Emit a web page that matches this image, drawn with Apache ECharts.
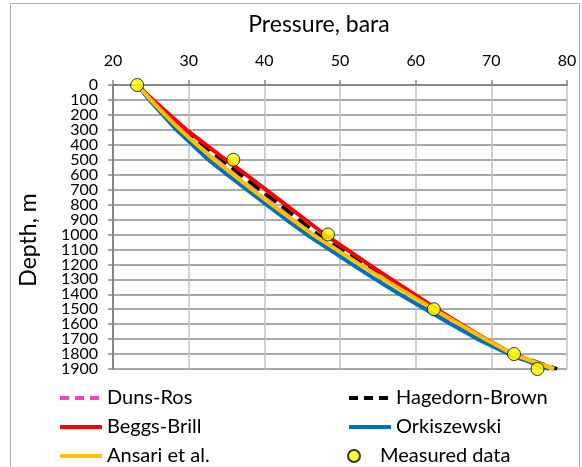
<!DOCTYPE html>
<html><head><meta charset="utf-8">
<script src="https://cdn.jsdelivr.net/npm/echarts@6/dist/echarts.min.js"></script>
<style>html,body{margin:0;padding:0;background:#fff}#c{width:582px;height:467px}</style>
</head><body><div id="c"></div>
<script>
const depths = [0,100,200,300,400,500,600,700,800,900,1000,1100,1200,1300,1400,1500,1600,1700,1800,1900];
const dunsRos      = [23.2,25.2,27.3,29.4,31.8,34.2,36.7,39.2,41.8,44.4,47.0,50.0,53.0,56.0,59.1,62.2,65.4,68.7,72.2,77.2];
const hagedornBrown= [23.2,25.2,27.3,29.4,31.9,34.4,36.9,39.4,42.1,44.6,47.1,50.1,53.1,56.2,59.3,62.5,65.8,69.2,72.9,78.7];
const beggsBrill   = [23.2,25.3,27.5,29.7,32.3,34.9,37.6,40.2,42.8,45.4,48.0,50.9,53.8,56.8,59.8,62.8,66.0,69.3,72.8,78.3];
const orkiszewski  = [23.2,24.8,26.6,28.4,30.5,32.6,35.1,37.7,40.3,42.9,45.6,48.6,51.6,54.7,57.9,61.3,64.7,68.2,72.3,77.6];
const ansari       = [23.2,25.0,26.9,28.9,31.1,33.4,35.9,38.4,41.0,43.7,46.4,49.5,52.6,55.8,59.1,62.4,65.8,69.2,72.8,78.3];
const measuredP    = [23.2,35.9,48.4,62.4,73.0,76.1];
const measuredD    = [0,500,1000,1500,1800,1900];
const seriesNames  = ['Duns-Ros','Hagedorn-Brown','Beggs-Brill','Orkiszewski','Ansari et al.','Measured data'];
const xTicks = [20,30,40,50,60,70,80];
const depthLabels = depths.map(String);

const FONT = 'Lato, "Open Sans", sans-serif';
function pairs(vals){ return vals.map((v,i)=>[v, String(depths[i])]); }
function lineSeries(name, vals, color, type, width){
  return {name, type:'line', data:pairs(vals), symbol:'none', showSymbol:false, smooth:false,
    lineStyle:{color, width, type}, itemStyle:{color}, animation:false};
}
const legendPos = [[58,388],[347,388],[58,417],[347,417],[58,446],[347,446]];
const legends = seriesNames.map((n,i)=>({
  left:legendPos[i][0], top:legendPos[i][1], padding:0, itemWidth:42, itemHeight:12, itemGap:0,
  textStyle:{fontSize:20, fontFamily:FONT, color:'#000'},
  lineStyle: i<2 ? {width:4, type:[9,6]} : {width:4},
  data:[ i<5 ? {name:n, itemStyle:{opacity:0}} : {name:n} ]
}));
const chart = echarts.init(document.getElementById('c'));
chart.setOption({
  animation:false,
  grid:{left:113, right:15, top:85, bottom:98},
  xAxis:{type:'value', position:'top', min:xTicks[0], max:xTicks[xTicks.length-1], interval:10,
    axisLine:{show:true, lineStyle:{color:'#868686', width:2}},
    axisTick:{show:true, length:5, lineStyle:{color:'#868686', width:1.5}},
    axisLabel:{color:'#000', fontSize:16, fontFamily:FONT, margin:16, showMinLabel:true, showMaxLabel:true},
    splitLine:{show:true, lineStyle:{color:'#c0c0c0', width:1.5}}},
  yAxis:{type:'category', data:depthLabels, inverse:true, boundaryGap:false,
    axisLine:{show:true, lineStyle:{color:'#868686', width:2}},
    axisTick:{show:true, length:5, interval:0, lineStyle:{color:'#868686', width:1.5}},
    axisLabel:{color:'#000', fontSize:16, fontFamily:FONT, margin:15, interval:0},
    splitLine:{show:true, interval:0, lineStyle:{color:'#8c8c8c', width:1.5}}},
  legend:legends,
  graphic:[
    {type:'rect', shape:{x:10.5, y:3.5, width:569, height:470}, style:{fill:'none', stroke:'#b0b0b0', lineWidth:1}, silent:true},
    {type:'text', x:319, y:25, style:{text:'Pressure, bara', font:'23px '+FONT, fill:'#000', textAlign:'center', textVerticalAlign:'middle'}},
    {type:'text', x:29, y:240, rotation:Math.PI/2, style:{text:'Depth, m', font:'23px '+FONT, fill:'#000', textAlign:'center', textVerticalAlign:'middle'}}
  ],
  series:[
    lineSeries(seriesNames[0], dunsRos, '#ee44cc', 'dashed', 3.5),
    lineSeries(seriesNames[1], hagedornBrown, '#000000', 'dashed', 3.5),
    lineSeries(seriesNames[2], beggsBrill, '#ff0000', 'solid', 4),
    lineSeries(seriesNames[3], orkiszewski, '#0070c0', 'solid', 4),
    lineSeries(seriesNames[4], ansari, '#ffc000', 'solid', 4),
    {name:seriesNames[5], type:'scatter', data:measuredP.map((p,i)=>[p, String(measuredD[i])]), symbol:'circle', symbolSize:13,
     itemStyle:{color:'#ffff00', borderColor:'#000', borderWidth:1}, z:5}
  ]
});
</script></body></html>
